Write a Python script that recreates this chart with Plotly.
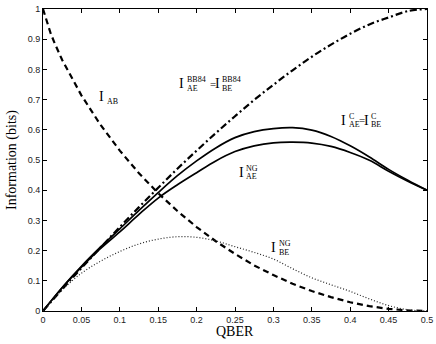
import plotly.graph_objects as go

# QBER grid
qber = [0, 0.025, 0.05, 0.075, 0.1, 0.125, 0.15, 0.175, 0.2, 0.225, 0.25,
        0.275, 0.3, 0.325, 0.35, 0.375, 0.4, 0.425, 0.45, 0.475, 0.5]

qber_ab = [0, 0.005, 0.01, 0.015, 0.025, 0.05, 0.075, 0.1, 0.125, 0.15, 0.175, 0.2,
           0.225, 0.25, 0.275, 0.3, 0.325, 0.35, 0.375, 0.4, 0.425, 0.45, 0.475, 0.5]
i_ab = [1.0, 0.955, 0.919, 0.888, 0.831, 0.714, 0.616, 0.531, 0.456, 0.39, 0.331, 0.278,
        0.231, 0.189, 0.151, 0.119, 0.09, 0.066, 0.046, 0.029, 0.016, 0.007, 0.002, 0.0]

i_bb84 = [0, 0.072, 0.142, 0.21, 0.278, 0.344, 0.408, 0.471, 0.531, 0.589, 0.645,
          0.699, 0.749, 0.797, 0.842, 0.882, 0.918, 0.949, 0.972, 0.993, 1.0]

i_c = [0, 0.078, 0.148, 0.212, 0.272, 0.333, 0.392, 0.448, 0.497, 0.54, 0.574,
       0.594, 0.604, 0.607, 0.599, 0.578, 0.547, 0.51, 0.469, 0.433, 0.4]

i_ng_ae = [0, 0.077, 0.145, 0.207, 0.262, 0.32, 0.374, 0.418, 0.458, 0.497, 0.528,
           0.547, 0.557, 0.559, 0.556, 0.545, 0.525, 0.499, 0.463, 0.43, 0.4]

i_ng_be = [0, 0.07, 0.125, 0.165, 0.197, 0.222, 0.238, 0.246, 0.244, 0.232, 0.213,
           0.194, 0.172, 0.14, 0.11, 0.087, 0.065, 0.04, 0.018, 0.004, 0.0]

x_ticks = [0, 0.05, 0.1, 0.15, 0.2, 0.25, 0.3, 0.35, 0.4, 0.45, 0.5]
x_ticktext = ["0", "0.05", "0.1", "0.15", "0.2", "0.25", "0.3", "0.35", "0.4", "0.45", "0.5"]
y_ticks = [0, 0.1, 0.2, 0.3, 0.4, 0.5, 0.6, 0.7, 0.8, 0.9, 1]
y_ticktext = ["0", "0.1", "0.2", "0.3", "0.4", "0.5", "0.6", "0.7", "0.8", "0.9", "1"]

fig = go.Figure()
fig.add_trace(go.Scatter(x=qber_ab, y=i_ab, mode="lines", line=dict(color="black", width=2.2, dash="6px,4px")))
fig.add_trace(go.Scatter(x=qber, y=i_bb84, mode="lines", line=dict(color="black", width=2.2, dash="7px,3px,2px,3px"), line_shape="spline"))
fig.add_trace(go.Scatter(x=qber, y=i_c, mode="lines", line=dict(color="black", width=1.7), line_shape="spline"))
fig.add_trace(go.Scatter(x=qber, y=i_ng_ae, mode="lines", line=dict(color="black", width=1.7), line_shape="spline"))
fig.add_trace(go.Scatter(x=qber, y=i_ng_be, mode="lines", line=dict(color="#222222", width=1.2, dash="1px,2px"), line_shape="spline"))

serif = "Liberation Serif, Times New Roman, serif"


def txt(x, y, s, size, anchor, dx=0, dy=0):
    fig.add_annotation(x=x, y=y, text=s, showarrow=False, xanchor=anchor, yanchor="middle",
                       xshift=dx, yshift=dy, borderpad=0,
                       font=dict(family=serif, size=size, color="black"))


def label(x, y, sup, sub):
    # "I" with stacked superscript / subscript to its right
    txt(x, y, "I", 14, "right")
    if sup:
        txt(x, y, sup, 8, "left", 0.5, 4)
    txt(x, y, sub, 8, "left", 0.5, -4.5)


label(0.081, 0.71, "", "AB")
label(0.185, 0.752, "BB84", "AE")
txt(0.2215, 0.752, "=", 11, "center")
label(0.2315, 0.752, "BB84", "BE")
label(0.396, 0.632, "C", "AE")
txt(0.4155, 0.632, "=", 11, "center")
label(0.4255, 0.632, "C", "BE")
label(0.263, 0.46, "NG", "AE")
label(0.305, 0.21, "NG", "BE")

# axis titles
fig.add_annotation(x=0.5, y=0, xref="paper", yref="paper", text="QBER", showarrow=False,
                   xanchor="center", yanchor="top", yshift=-11,
                   font=dict(family=serif, size=14, color="black"))
fig.add_annotation(x=0, y=0.5, xref="paper", yref="paper", text="Information (bits)", showarrow=False,
                   xanchor="center", yanchor="middle", xshift=-31, textangle=-90,
                   font=dict(family=serif, size=14, color="black"))

axis_common = dict(showgrid=False, zeroline=False, showline=True, linecolor="black", linewidth=1,
                   mirror="ticks", ticks="inside", ticklen=4, tickcolor="black", automargin=False,
                   tickfont=dict(family="Liberation Sans, Arial", size=9, color="#222222"))

fig.update_xaxes(range=[0, 0.5], tickvals=x_ticks, ticktext=x_ticktext, **axis_common)
fig.update_yaxes(range=[0, 1], tickvals=y_ticks, ticktext=y_ticktext, **axis_common)

fig.update_layout(width=436, height=344, showlegend=False,
                  margin=dict(l=43, r=9, t=9, b=33),
                  plot_bgcolor="white", paper_bgcolor="white")

# drop the default page margin / scrollbars so the figure fills the window exactly
page_css = ("document.documentElement.style.overflow='hidden';"
            "document.body.style.margin='0';document.body.style.overflow='hidden';")
fig.write_html("out.html", config={"displayModeBar": False}, post_script=page_css)
